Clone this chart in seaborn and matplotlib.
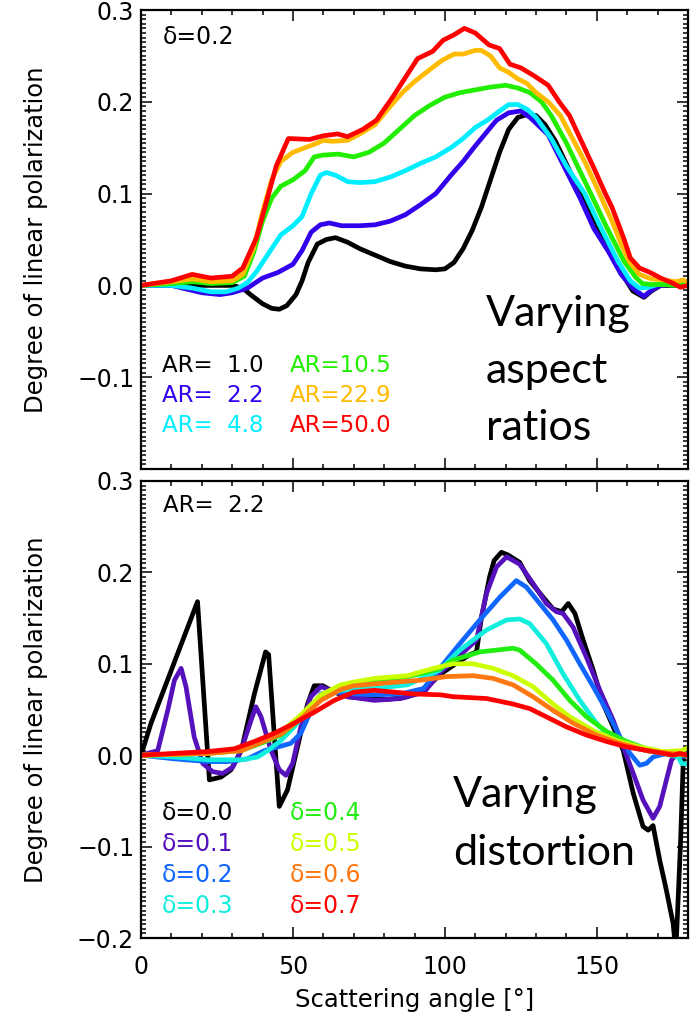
import matplotlib
matplotlib.use("Agg")
import matplotlib.pyplot as plt
import numpy as np
import pandas as pd
import seaborn as sns
from matplotlib.ticker import MultipleLocator

# ---------------- Top panel: delta = 0.2, varying aspect ratio ----------------
ar_labels = ["AR=  1.0", "AR=  2.2", "AR=  4.8", "AR=10.5", "AR=22.9", "AR=50.0"]
ar_colors = ["#000000", "#3300ee", "#00eeff", "#22ee00", "#ffbb00", "#ff0000"]

ang_ar1 = [0, 10, 20, 30, 33.5, 36, 40, 43, 45.5, 48, 51, 53, 55, 58, 61, 64, 68, 72, 77, 82, 87, 92, 97,
           100, 103, 106, 109, 112, 115, 118, 121, 124, 127, 130, 133, 136.4, 142.2, 150.3, 158.4, 161.8,
           165.5, 168, 171, 175, 180]
dlp_ar1 = [0, 0, 0, 0, -0.003, -0.01, -0.02, -0.025, -0.026, -0.022, -0.01, 0.005, 0.025, 0.045, 0.05,
           0.052, 0.047, 0.04, 0.033, 0.026, 0.021, 0.018, 0.017, 0.018, 0.025, 0.04, 0.06, 0.085, 0.115,
           0.145, 0.17, 0.183, 0.186, 0.185, 0.175, 0.157, 0.117, 0.063, 0.012, -0.006, -0.013, -0.006,
           0, 0, 0]

ang_ar2 = [0, 10, 15, 20, 26, 30, 35, 40, 45, 50, 53, 56, 59, 62, 66, 72, 77, 82, 87, 92, 97, 102, 106,
           110, 114, 117, 121, 125, 128, 134, 139, 144.5, 149, 153.8, 158, 161.8, 165.5, 168, 171, 175, 180]
dlp_ar2 = [0, 0, -0.004, -0.008, -0.01, -0.008, -0.003, 0.008, 0.014, 0.023, 0.038, 0.058, 0.066, 0.068,
           0.065, 0.065, 0.066, 0.07, 0.077, 0.088, 0.1, 0.12, 0.135, 0.152, 0.168, 0.18, 0.188, 0.19,
           0.183, 0.164, 0.131, 0.095, 0.062, 0.037, 0.012, -0.003, -0.012, -0.005, 0.0, 0.001, 0]

ang_ar3 = [0, 10, 17, 23, 28, 32, 35, 38, 42, 46, 50, 53, 56, 59, 61, 64, 68, 72, 77, 82, 87, 92, 97, 102,
           106, 110, 114, 118, 121, 124, 127, 130, 135, 140, 146, 151, 157, 161, 164, 167, 170, 175, 180]
dlp_ar3 = [0, 0, -0.003, -0.007, -0.007, -0.003, 0.003, 0.015, 0.035, 0.055, 0.065, 0.075, 0.1, 0.12,
           0.123, 0.12, 0.113, 0.112, 0.113, 0.118, 0.125, 0.133, 0.14, 0.15, 0.16, 0.172, 0.18, 0.19,
           0.197, 0.197, 0.192, 0.183, 0.16, 0.13, 0.1, 0.065, 0.026, 0.005, -0.003, -0.002, 0.001,
           0.001, 0.002]

ang_ar4 = [0, 10, 17, 23, 30, 34, 37, 40, 43, 46, 50, 54, 57, 60, 65, 70, 75, 80, 85, 90, 95, 100, 105,
           110, 115, 120, 124, 128, 131.8, 135, 140, 148, 153, 159, 163, 165, 168, 172, 176, 180]
dlp_ar4 = [0, 0.002, 0.004, 0.002, 0.003, 0.01, 0.035, 0.07, 0.095, 0.108, 0.115, 0.125, 0.14, 0.142,
           0.143, 0.14, 0.145, 0.155, 0.17, 0.185, 0.196, 0.205, 0.21, 0.213, 0.216, 0.218, 0.215, 0.21,
           0.2, 0.185, 0.155, 0.1, 0.065, 0.026, 0.008, 0.002, 0.001, 0.001, 0, 0.003]

ang_ar5 = [0, 10, 17, 23, 30, 33.5, 37, 40, 43, 46, 50, 54, 58, 60, 63, 68, 72, 77, 82, 86, 90, 95, 99,
           103, 106, 110, 112, 115, 118, 121, 124, 127, 130, 134, 138, 142, 146, 150.9, 155, 158, 160.7,
           164, 168, 172, 176, 178.5, 180]
dlp_ar5 = [0, 0.004, 0.007, 0.004, 0.005, 0.012, 0.04, 0.08, 0.115, 0.135, 0.145, 0.15, 0.155, 0.158,
           0.157, 0.158, 0.165, 0.175, 0.195, 0.21, 0.222, 0.235, 0.245, 0.252, 0.252, 0.256, 0.256, 0.25,
           0.237, 0.232, 0.225, 0.22, 0.21, 0.2, 0.185, 0.16, 0.135, 0.1, 0.07, 0.045, 0.026, 0.012,
           0.007, 0.006, 0.004, 0.006, 0.003]

ang_ar6 = [0, 10, 16.8, 23, 30, 33.5, 38, 41.6, 44.5, 48.5, 55.5, 60, 64.7, 68, 73, 77.5, 83, 91, 96,
           99.4, 103, 106.4, 110, 114.5, 118, 121.4, 125, 129.5, 134, 137.6, 141, 144.5, 149, 152.8, 155,
           159, 161, 164, 167.6, 171, 174.6, 177.5, 180]
dlp_ar6 = [0, 0.005, 0.012, 0.008, 0.01, 0.019, 0.052, 0.095, 0.13, 0.16, 0.159, 0.163, 0.165, 0.162,
           0.17, 0.18, 0.206, 0.247, 0.255, 0.267, 0.273, 0.28, 0.275, 0.262, 0.258, 0.241, 0.237, 0.228,
           0.218, 0.2, 0.185, 0.16, 0.128, 0.1, 0.085, 0.05, 0.03, 0.019, 0.014, 0.008, 0.003, -0.002, 0]

# ---------------- Bottom panel: AR = 2.2, varying distortion ----------------
dl_labels = ["δ=0.0", "δ=0.1", "δ=0.2", "δ=0.3", "δ=0.4", "δ=0.5", "δ=0.6", "δ=0.7"]
dl_colors = ["#000000", "#5511bb", "#1166ff", "#11eedd", "#22ee11", "#ccff00", "#ff7711", "#ff0000"]

ang_d0 = [0, 3.3, 18.6, 22.5, 26.3, 29.6, 33, 37.3, 41, 42, 45.5, 48.2, 51.5, 54.8, 57, 59.8, 63.6, 68,
          74.6, 81, 87.7, 94.3, 98.7, 104, 108.2, 110.4, 112, 114.7, 116.2, 118.6, 120.8, 124.6, 127.9,
          132.3, 135.6, 138.4, 140.6, 142.8, 145.5, 148.8, 152.1, 155.4, 158.7, 162, 165.2, 166.9, 168.5,
          170.7, 172.9, 175.1, 176, 177.5, 178.5, 180]
dlp_d0 = [0, 0.035, 0.168, -0.027, -0.024, -0.016, 0.005, 0.067, 0.113, 0.11, -0.056, -0.038, 0.009,
          0.056, 0.076, 0.076, 0.069, 0.064, 0.062, 0.061, 0.064, 0.075, 0.089, 0.101, 0.11, 0.113, 0.15,
          0.195, 0.213, 0.222, 0.219, 0.211, 0.191, 0.173, 0.16, 0.157, 0.166, 0.155, 0.126, 0.093, 0.056,
          0.031, 0.005, -0.042, -0.078, -0.082, -0.077, -0.115, -0.148, -0.184, -0.215, -0.1, 0.0, 0.0]

ang_d1 = [0, 5.5, 8.8, 11, 13.2, 14.8, 17.5, 20.3, 23.6, 26.9, 30.2, 32.9, 36.2, 37.8, 39.5, 42.8, 45.5,
          47.7, 49.9, 52.6, 55.9, 59.2, 62.5, 68, 76.8, 85.5, 93.2, 98.3, 104.9, 110.4, 113.7, 117, 120.3,
          124.6, 129, 133.4, 136.7, 138.9, 142.2, 146.6, 151, 155.4, 158.7, 162, 165.2, 168.5, 170.7,
          172.9, 174.6, 176.2, 180]
dlp_d1 = [0, 0.005, 0.049, 0.082, 0.095, 0.075, 0.02, -0.009, -0.018, -0.02, -0.013, 0.005, 0.038,
          0.053, 0.042, 0.005, -0.016, -0.022, -0.009, 0.031, 0.064, 0.075, 0.071, 0.064, 0.06, 0.062,
          0.069, 0.09, 0.109, 0.126, 0.177, 0.206, 0.217, 0.209, 0.188, 0.166, 0.157, 0.155, 0.14, 0.107,
          0.071, 0.038, 0.009, -0.02, -0.049, -0.069, -0.056, -0.027, -0.005, 0, 0]

ang_d2 = [0, 11, 22, 28.5, 35, 40.6, 45, 49.3, 52.6, 56, 59.2, 63.6, 70, 76.8, 85.5, 93, 98.3, 104.9,
          111.5, 118.1, 123.5, 126.8, 131.2, 135.6, 140, 144.4, 148.8, 153.2, 157.6, 160.9, 164.1, 166.3,
          168.5, 172.9, 177.3, 180]
dlp_d2 = [0, -0.004, -0.007, -0.007, -0.004, 0.005, 0.009, 0.013, 0.024, 0.049, 0.067, 0.069, 0.067,
          0.066, 0.067, 0.073, 0.095, 0.122, 0.148, 0.173, 0.191, 0.184, 0.166, 0.148, 0.126, 0.1, 0.075,
          0.049, 0.02, 0.002, -0.011, -0.009, -0.002, 0.002, -0.002, 0]

ang_d3 = [0, 11, 22, 33, 38.4, 41.7, 46, 50.4, 54.8, 59.2, 65.8, 76.8, 87.7, 98.3, 104.9, 113.7, 120.3,
          124.6, 127.9, 133.4, 138.9, 144.4, 149.9, 155.4, 160.9, 166.3, 171.8, 176.8, 177.9, 180]
dlp_d3 = [0, -0.002, -0.005, -0.005, -0.002, 0.005, 0.016, 0.031, 0.049, 0.066, 0.071, 0.073, 0.077,
          0.093, 0.115, 0.137, 0.148, 0.149, 0.144, 0.122, 0.089, 0.06, 0.035, 0.016, 0.009, 0.005,
          0.002, -0.002, -0.009, -0.01]

ang_d4 = [0, 22, 33, 39.5, 46, 52.6, 59.2, 65.8, 70, 76.8, 87.7, 91.8, 98.7, 102.7, 111.5, 122.4, 124.6,
          130, 135.6, 141.1, 146.6, 153.2, 159.8, 166.3, 172.9, 180]
dlp_d4 = [0, 0.002, 0.005, 0.013, 0.022, 0.04, 0.062, 0.075, 0.078, 0.082, 0.086, 0.089, 0.095, 0.104,
          0.113, 0.117, 0.115, 0.1, 0.082, 0.06, 0.042, 0.026, 0.015, 0.007, 0.002, 0]

ang_d5 = [0, 22, 33, 39.5, 46, 52.6, 59.2, 65.8, 70, 76.8, 87.7, 91.8, 98.7, 102.7, 109.3, 115.9, 122.4,
          129, 135.6, 141.1, 148.8, 156.5, 164.1, 171.8, 177.9, 180]
dlp_d5 = [0, 0.002, 0.005, 0.015, 0.025, 0.044, 0.066, 0.077, 0.08, 0.084, 0.087, 0.091, 0.097, 0.1,
          0.1, 0.095, 0.087, 0.075, 0.056, 0.042, 0.027, 0.016, 0.009, 0.004, 0.005, 0.008]

ang_d6 = [0, 22, 33, 39.5, 46, 52.6, 59.2, 65.8, 70, 76.8, 87.7, 91.8, 100.5, 109.3, 115.9, 122.4, 129,
          135.6, 142.2, 149.9, 157.6, 166.3, 174, 180]
dlp_d6 = [0, 0.002, 0.005, 0.014, 0.023, 0.04, 0.06, 0.072, 0.076, 0.078, 0.081, 0.082, 0.086, 0.087,
          0.084, 0.077, 0.064, 0.049, 0.035, 0.022, 0.013, 0.005, 0.002, 0]

ang_d7 = [0, 11, 22, 30.7, 37.3, 43.9, 50.4, 57, 63.6, 70, 76.8, 83.3, 90, 98.7, 102.7, 113.7, 122.4,
          127.9, 133.4, 140, 146.6, 153.2, 159.8, 168.5, 175, 177.3, 180]
dlp_d7 = [0, 0.002, 0.004, 0.007, 0.015, 0.024, 0.035, 0.047, 0.06, 0.069, 0.071, 0.069, 0.067, 0.066,
          0.064, 0.062, 0.056, 0.051, 0.042, 0.031, 0.022, 0.015, 0.009, 0.004, 0, 0.002, 0]

xticks = [0, 50, 100, 150]
yticks_top = [-0.1, 0.0, 0.1, 0.2, 0.3]
yticklabels_top = ["\u22120.1", "0.0", "0.1", "0.2", "0.3"]
yticks_bot = [-0.2, -0.1, 0.0, 0.1, 0.2, 0.3]
yticklabels_bot = ["\u22120.2", "\u22120.1", "0.0", "0.1", "0.2", "0.3"]

top_series = list(zip(ar_labels, [ang_ar1, ang_ar2, ang_ar3, ang_ar4, ang_ar5, ang_ar6],
                      [dlp_ar1, dlp_ar2, dlp_ar3, dlp_ar4, dlp_ar5, dlp_ar6]))
bot_series = list(zip(dl_labels, [ang_d0, ang_d1, ang_d2, ang_d3, ang_d4, ang_d5, ang_d6, ang_d7],
                      [dlp_d0, dlp_d1, dlp_d2, dlp_d3, dlp_d4, dlp_d5, dlp_d6, dlp_d7]))


def to_frame(series):
    rows = []
    for lab, a, d in series:
        for i, (x, y) in enumerate(zip(a, d)):
            rows.append({"series": lab, "angle": x, "dlp": y, "order": i})
    return pd.DataFrame(rows)


df_top = to_frame(top_series)
df_bot = to_frame(bot_series)

sns.set_theme(style="ticks")
plt.rcParams["font.family"] = ["DejaVu Sans"]
plt.rcParams["axes.unicode_minus"] = True

fig = plt.figure(figsize=(6.92, 10.16), dpi=100)
ax1 = fig.add_axes([141 / 692, 1 - 469 / 1016, 547 / 692, 459 / 1016])
ax2 = fig.add_axes([141 / 692, 1 - 938 / 1016, 547 / 692, 457 / 1016])

for ax, df, labels, colors in [(ax1, df_top, ar_labels, ar_colors), (ax2, df_bot, dl_labels, dl_colors)]:
    for lab, col in zip(labels, colors):
        sub = df[df["series"] == lab]
        sns.lineplot(data=sub, x="angle", y="dlp", ax=ax, color=col, linewidth=3.4,
                     estimator=None, sort=False, legend=False, solid_joinstyle="round",
                     solid_capstyle="round")


def style(ax, yt, ytl, show_x):
    ax.set_xlim(0, 180)
    ax.set_ylim(-0.2, 0.3)
    ax.set_xticks(xticks)
    ax.xaxis.set_minor_locator(MultipleLocator(10))
    ax.set_yticks(yt)
    ax.set_yticklabels(ytl)
    ax.yaxis.set_minor_locator(MultipleLocator(0.005))
    ax.tick_params(which="both", direction="in", top=True, right=True, width=1.1, color="black")
    ax.tick_params(which="major", length=8)
    ax.tick_params(which="minor", length=3.6)
    ax.tick_params(axis="y", labelsize=17, pad=5, labelcolor="black")
    ax.tick_params(axis="x", labelsize=17, pad=12, labelcolor="black", labelbottom=show_x)
    for s in ax.spines.values():
        s.set_linewidth(1.6)
        s.set_color("black")
    ax.set_ylabel("Degree of linear polarization", fontsize=17.5, color="black")
    ax.yaxis.set_label_coords(-0.17, 0.5)
    ax.set_xlabel("")
    ax.grid(False)


style(ax1, yticks_top, yticklabels_top, False)
style(ax2, yticks_bot, yticklabels_bot, True)
ax2.set_xlabel("Scattering angle [°]", fontsize=17.5, color="black")
ax2.xaxis.set_label_coords(0.5, -0.11)

# annotations top
ax1.text(7.2, 0.263, "δ=0.2", fontsize=17, color="black", va="baseline")
leg_x = [6.9, 6.9, 6.9, 49, 49, 49]
leg_y_top = [-0.0945, -0.127, -0.16, -0.0945, -0.127, -0.16]
for lab, col, x, y in zip(ar_labels, ar_colors, leg_x, leg_y_top):
    ax1.text(x, y, lab, fontsize=16.5, color=col, va="baseline")
for txt, y in zip(["Varying", "aspect", "ratios"], [-0.044, -0.106, -0.168]):
    ax1.text(113.5, y, txt, fontsize=31, family="Lato", color="black", va="baseline")

# annotations bottom
ax2.text(7.2, 0.266, "AR=  2.2", fontsize=16.5, color="black", va="baseline")
leg_x2 = [6.9] * 4 + [49] * 4
leg_y_bot = [-0.071, -0.105, -0.139, -0.173] * 2
for lab, col, x, y in zip(dl_labels, dl_colors, leg_x2, leg_y_bot):
    ax2.text(x, y, lab, fontsize=17, color=col, va="baseline")
for txt, y in zip(["Varying", "distortion"], [-0.057, -0.12]):
    ax2.text(102.6, y, txt, fontsize=31, family="Lato", color="black", va="baseline")

fig.savefig("out.png", dpi=100)
